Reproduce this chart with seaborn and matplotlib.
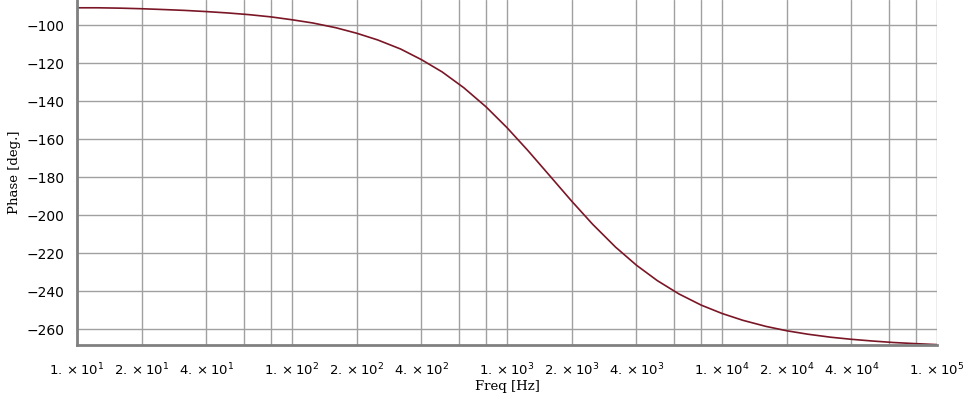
import pandas as pd
import matplotlib
matplotlib.use('Agg')
import matplotlib.pyplot as plt
import matplotlib.ticker as mticker
import seaborn as sns

# values
freq_hz = [10, 12.5, 16, 20, 25, 32, 40, 50, 63, 80,
           100, 125, 160, 200, 250, 320, 400, 500, 630, 800,
           1000, 1250, 1600, 2000, 2500, 3200, 4000, 5000, 6300, 8000,
           10000, 12500, 16000, 20000, 25000, 32000, 40000, 50000, 63000, 80000,
           100000]
phase_deg = [-90.9, -90.9, -91.1, -91.4, -91.8, -92.3, -92.9, -93.6, -94.5, -95.7,
             -97.2, -98.9, -101.4, -104.3, -107.8, -112.6, -118.2, -124.7, -133.0, -143.1,
             -154.0, -166.0, -180.0, -192.7, -204.8, -216.9, -226.4, -234.5, -241.5, -247.4,
             -251.8, -255.4, -258.6, -260.9, -262.7, -264.3, -265.4, -266.3, -267.1, -267.7,
             -268.2]

major_ticks = [10, 20, 40, 100, 200, 400, 1000, 2000, 4000,
               10000, 20000, 40000, 100000]
major_labels = [r'$1.\times10^{1}$', r'$2.\times10^{1}$', r'$4.\times10^{1}$',
                r'$1.\times10^{2}$', r'$2.\times10^{2}$', r'$4.\times10^{2}$',
                r'$1.\times10^{3}$', r'$2.\times10^{3}$', r'$4.\times10^{3}$',
                r'$1.\times10^{4}$', r'$2.\times10^{4}$', r'$4.\times10^{4}$',
                r'$1.\times10^{5}$']
minor_ticks = [60, 80, 600, 800, 6000, 8000, 60000, 80000]
y_ticks = [-100, -120, -140, -160, -180, -200, -220, -240, -260]

df = pd.DataFrame({'freq': freq_hz, 'phase': phase_deg})

sns.set_style('white')
plt.rcParams['font.family'] = ['DejaVu Sans']
plt.rcParams['mathtext.fontset'] = 'dejavusans'

fig = plt.figure(figsize=(9.72, 4.0), dpi=100)
ax = fig.add_axes([0.0792, 0.1375, 0.8848, 0.8625])

sns.lineplot(data=df, x='freq', y='phase', ax=ax, color='#7a1626', linewidth=1.2)

ax.set_xscale('log')
ax.set_xlim(10, 100000)
ax.set_ylim(-268.4, -86.8)

ax.xaxis.set_major_locator(mticker.FixedLocator(major_ticks))
ax.xaxis.set_major_formatter(mticker.FixedFormatter(major_labels))
ax.xaxis.set_minor_locator(mticker.FixedLocator(minor_ticks))
ax.xaxis.set_minor_formatter(mticker.NullFormatter())
ax.set_yticks(y_ticks)

ax.grid(True, which='both', color='#a0a0a0', linewidth=1.0)
ax.set_axisbelow(True)

for side in ['top', 'right']:
    ax.spines[side].set_visible(False)
for side in ['left', 'bottom']:
    ax.spines[side].set_color('#808080')
    ax.spines[side].set_linewidth(2.0)

ax.tick_params(axis='x', which='both', direction='out', length=5, width=0.8,
               color='#c0c0c0', pad=7, labelsize=9.5, labelcolor='black')
ax.tick_params(axis='y', direction='out', length=5, width=0.8,
               color='#c0c0c0', pad=4, labelsize=10, labelcolor='black')

ax.set_xlabel('Freq [Hz]', family=['DejaVu Serif'], fontsize=9.5, labelpad=1,
              color='black')
ax.set_ylabel('Phase [deg.]', family=['DejaVu Serif'], fontsize=9.5, labelpad=4,
              color='black')

fig.savefig('out.png', dpi=100)
